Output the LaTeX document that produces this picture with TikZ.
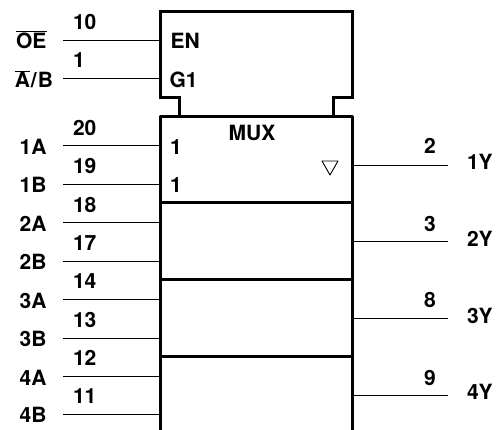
\documentclass[tikz,border=0pt]{standalone}
\usepackage{fontspec}
\setmainfont{TeX Gyre Heros}
\newcommand{\barred}[1]{$\overline{\mbox{\bfseries #1}}$}
\tikzset{
  x=1pt,y=-1pt,
  lbl/.style={inner sep=0pt,outer sep=0pt,font=\fontsize{21}{21}\selectfont\bfseries,text=black},
  lw/.style={lbl,anchor=base west},
  le/.style={lbl,anchor=base east},
  lc/.style={lbl,anchor=base},
  pin/.style={draw=black,line width=1pt},
  block/.style={draw=black,line width=3pt,line cap=round,line join=miter},
  mark3/.style={draw=black,line width=0.9pt,line join=round},
}
\begin{document}
\begin{tikzpicture}
\useasboundingbox (0,0) rectangle (496,430);
% pin ends
\foreach \n/\y in {en/40.5,g/78.5,a1/145.5,b1/184.5,a2/222.5,b2/261.5,a3/299.5,b3/338.5,a4/376.5,b4/414.5}{
  \coordinate (\n o) at (63,\y);
  \coordinate (\n i) at (160,\y);
}
\foreach \n/\y in {y1/165.5,y2/242,y3/318.5,y4/395.5}{
  \coordinate (\n i) at (352,\y);
  \coordinate (\n o) at (448,\y);
}
\foreach \n in {en,g,a1,b1,a2,b2,a3,b3,a4,b4,y1,y2,y3,y4}{
  \draw[pin] (\n o) -- (\n i);
}
% blocks
\coordinate (tl) at (160.5,11.5);
\coordinate (tr) at (352,11.5);
\coordinate (ml) at (160.5,116.5);
\coordinate (mr) at (352,116.5);
\coordinate (bl) at (160.5,430);
\coordinate (br) at (352,430);
\draw[block] (ml) -- (mr);
\draw[block] (bl) -- (ml);
\draw[block] (br) -- (mr);
\draw[block] (179,116.5) -- (179,97.5) -- (160.5,97.5) -- (tl) -- (tr) -- (352,97.5) -- (333,97.5) -- (333,116.5);
\draw[block] (160.5,203) -- (352,203);
\draw[block] (160.5,280) -- (352,280);
\draw[block] (160.5,357) -- (352,357);
\draw[mark3] (322,161) -- (338,161) -- (330,175) -- cycle;
% inside labels
\node[lw] (tEN) at (170.5,48.5) {EN};
\node[lw] (tG) at (169.5,87.5) {G1};
\node[lc] (tMUX) at (252,140.5) {MUX};
\node[lw] (t1a) at (170,154.5) {1};
\node[lw] (t1b) at (170,192.5) {1};
% pin numbers left
\foreach \n/\t/\y in {p10/10/29.5,p1/1/67.5,p20/20/135.5,p19/19/173.5,p18/18/212.5,p17/17/250.5,p14/14/288.5,p13/13/327.5,p12/12/365.5,p11/11/403.5}{
  \node[lw] (\n) at (73,\y) {\t};
}
% signal names left
\node[le] (sOE) at (46.5,48.5) {\barred{OE}};
\node[le] (sAB) at (53,87.5) {\barred{A}\kern1pt/\kern1pt B};
\foreach \n/\t/\y in {s1A/1A/154.5,s1B/1B/192.5,s2A/2A/231.5,s2B/2B/269.5,s3A/3A/308.5,s3B/3B/346.5,s4A/4A/385.5,s4B/4B/422.5}{
  \node[le] (\n) at (46.5,\y) {\t};
}
% right
\foreach \n/\t/\y in {p2/2/153.5,p3/3/231.5,p8/8/307.5,p9/9/385.5}{
  \node[lw] (\n) at (424,\y) {\t};
}
\foreach \n/\t/\y in {s1Y/1Y/170,s2Y/2Y/247,s3Y/3Y/323.5,s4Y/4Y/400}{
  \node[lw] (\n) at (467,\y) {\t};
}
\end{tikzpicture}
\end{document}
